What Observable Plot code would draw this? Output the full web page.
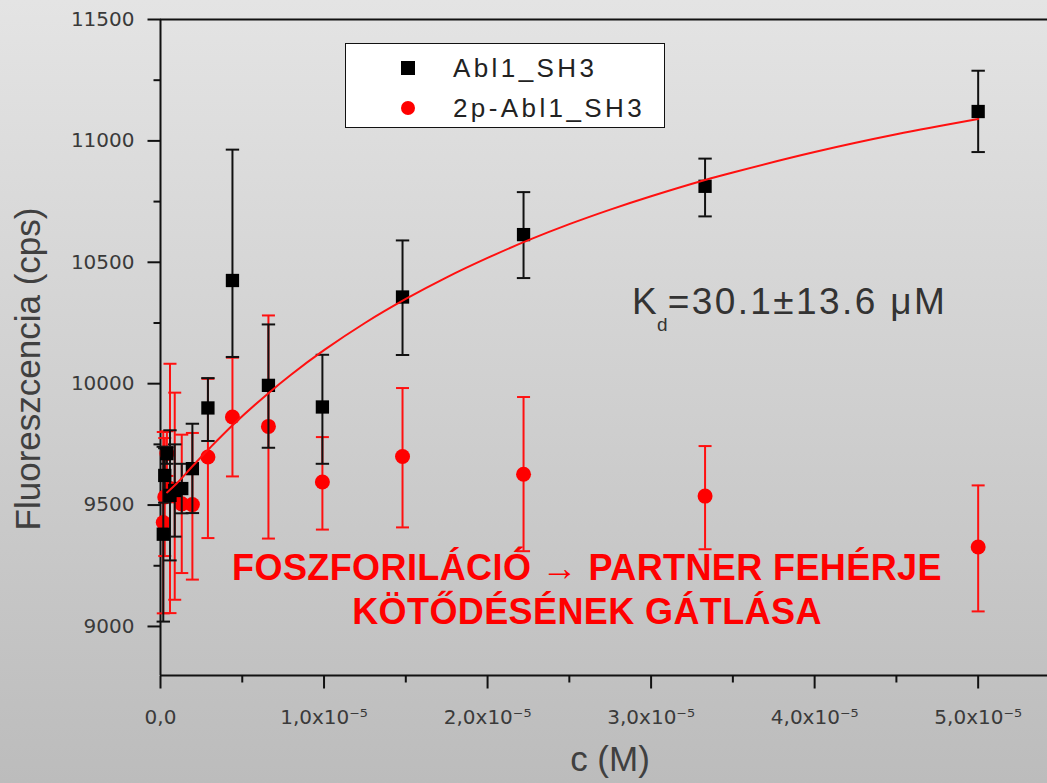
<!DOCTYPE html>
<html>
<head>
<meta charset="utf-8">
<script src="https://cdn.jsdelivr.net/npm/d3@7"></script>
<script src="https://cdn.jsdelivr.net/npm/@observablehq/plot@0.6"></script>
<style>
  html, body { margin: 0; padding: 0; }
  #wrap { position: relative; width: 1047px; height: 783px; overflow: hidden;
          background: linear-gradient(to bottom, #e4e4e4 0%, #bcbcbc 100%);
          font-family: "Liberation Sans", Arial, sans-serif; }
  #wrap svg { position: absolute; left: 0; top: 0; }
  .ov { position: absolute; white-space: nowrap; }
  #ytitle { left: -172px; top: 349px; width: 400px; height: 40px; line-height: 40px; text-align: center;
            font-size: 35px; color: #404040; transform: rotate(-90deg); }
  #xtitle { left: 510px; top: 742px; width: 200px; line-height: 34px; text-align: center;
            font-size: 35px; color: #404040; }
  #kd { left: 632px; top: 283px; font-size: 37px; line-height: 37px; color: #333; letter-spacing: 2.4px; }
  #kd .sub { font-size: 19px; position: relative; top: 17px; margin-left: -2px; margin-right: 0px; letter-spacing: 0; }
  #anno { left: 187px; top: 546px; width: 800px; text-align: center; color: #ff0000;
          font-weight: bold; font-size: 36px; line-height: 44px; letter-spacing: 0.4px; }
  #legend { left: 345px; top: 43px; width: 318px; height: 83px; background: #fff; border: 1.5px solid #111; }
  .lrow { position: absolute; left: 0; height: 30px; line-height: 30px; font-size: 26px; color: #222; letter-spacing: 3.4px; }
  .lsym { position: absolute; }
</style>
</head>
<body>
<div id="wrap">
  <div id="ytitle" class="ov">Fluoreszcencia (cps)</div>
  <div id="xtitle" class="ov">c (M)</div>
  <div id="kd" class="ov">K<span class="sub">d</span>=30.1±13.6 μM</div>
  <div id="anno" class="ov">FOSZFORILÁCIÓ → PARTNER FEHÉRJE<br>KÖTŐDÉSÉNEK GÁTLÁSA</div>
  <div id="legend" class="ov">
    <div class="lsym" style="left:55px;top:17px;width:14px;height:14px;background:#000"></div>
    <div class="lrow" style="top:9px;left:107px">Abl1_SH3</div>
    <div class="lsym" style="left:55px;top:57px;width:14px;height:14px;border-radius:50%;background:#ff0000"></div>
    <div class="lrow" style="top:49px;left:107px">2p-Abl1_SH3</div>
  </div>
</div>
<script>
// ---- data ----
const conc = [1.7e-7, 2.6e-7, 3.9e-7, 5.8e-7, 8.7e-7, 1.3e-6, 1.95e-6, 2.9e-6, 4.4e-6, 6.6e-6, 9.9e-6, 1.48e-5, 2.22e-5, 3.33e-5, 5.0e-5];

// Abl1_SH3 (black squares)
const ablY  = [9380, 9622, 9712, 9540, 9560, 9568, 9650, 9900, 10425, 9993, 9904, 10357, 10614, 10813, 11121];
const ablLo = [9020, 9510, 9670, 9272, 9370, 9466, 9467, 9764, 10110, 9736, 9670, 10118, 10435, 10689, 10954];
const ablHi = [9740, 9734, 9740, 9808, 9750, 9670, 9835, 10023, 10964, 10244, 10119, 10590, 10789, 10927, 11289];

// 2p-Abl1_SH3 (red circles)
const pY  = [9428, 9533, 9712, 9568, 9537, 9505, 9502, 9698, 9863, 9824, 9595, 9700, 9627, 9537, 9327];
const pLo = [9054, 9290, 9620, 9055, 9110, 9220, 9193, 9364, 9618, 9362, 9399, 9408, 9310, 9318, 9062];
const pHi = [9801, 9776, 9804, 10082, 9963, 9790, 9797, 10020, 10107, 10281, 9780, 9982, 9945, 9743, 9581];

// fitted curve (red line)
const fitC = [4e-7, 1e-6, 2e-6, 3e-6, 4.5e-6, 6.6e-6, 8e-6, 1.0e-5, 1.25e-5, 1.5e-5, 1.75e-5, 2.0e-5, 2.25e-5, 2.5e-5, 2.75e-5, 3.0e-5, 3.33e-5, 3.5e-5, 4.0e-5, 4.5e-5, 5.0e-5];
const fitY = [9552, 9590, 9663, 9734, 9835, 9961, 10038, 10138, 10250, 10349, 10438, 10518, 10591, 10657, 10717, 10772, 10839, 10870, 10954, 11027, 11090];

// axes
const xDomain = [0, 5.424e-5];
const yDomain = [8798, 11500];
const xMajorTicks = [0, 1e-5, 2e-5, 3e-5, 4e-5, 5e-5];
const xTickLabels = ["0,0", "1,0x10⁻⁵", "2,0x10⁻⁵", "3,0x10⁻⁵", "4,0x10⁻⁵", "5,0x10⁻⁵"];
const xMinorTicks = [0.5e-5, 1.5e-5, 2.5e-5, 3.5e-5, 4.5e-5];
const yMajorTicks = [9000, 9500, 10000, 10500, 11000, 11500];
const yMinorTicks = [9250, 9750, 10250, 10750, 11250];

// ---- build ----
const abl = conc.map((c, i) => ({c, y: ablY[i], lo: ablLo[i], hi: ablHi[i]}));
const pab = conc.map((c, i) => ({c, y: pY[i], lo: pLo[i], hi: pHi[i]}));
const fit = fitC.map((c, i) => ({c, y: fitY[i]}));

const tickDown = len => ({draw(ctx) { ctx.moveTo(0, 0); ctx.lineTo(0, len); }});
const tickLeft = len => ({draw(ctx) { ctx.moveTo(0, 0); ctx.lineTo(-len, 0); }});
const cap = half => ({draw(ctx) { ctx.moveTo(-half, 0); ctx.lineTo(half, 0); }});

const ink = "#111";
const red = "#ff1010";

const errMarks = (data, color, half) => [
  Plot.ruleX(data, {x: "c", y1: "lo", y2: "hi", stroke: color, strokeWidth: 2}),
  Plot.dot(data, {x: "c", y: "lo", symbol: cap(half), r: 1, stroke: color, strokeWidth: 2, fill: "none"}),
  Plot.dot(data, {x: "c", y: "hi", symbol: cap(half), r: 1, stroke: color, strokeWidth: 2, fill: "none"})
];

const chart = Plot.plot({
  width: 1047,
  height: 783,
  marginLeft: 160,
  marginRight: 0,
  marginTop: 19,
  marginBottom: 108,
  style: {background: "transparent", overflow: "visible", fontFamily: "DejaVu Sans"},
  x: {type: "linear", domain: xDomain, axis: null},
  y: {type: "linear", domain: yDomain, axis: null},
  marks: [
    // frame / axes
    Plot.ruleY([yDomain[1]], {stroke: ink, strokeWidth: 2}),
    Plot.ruleY([yDomain[0]], {stroke: ink, strokeWidth: 2}),
    Plot.ruleX([xDomain[0]], {stroke: ink, strokeWidth: 2}),
    Plot.dot(yMajorTicks, {x: () => 0, y: d => d, symbol: tickLeft(13), r: 1, stroke: ink, strokeWidth: 2, fill: "none"}),
    Plot.dot(yMinorTicks, {x: () => 0, y: d => d, symbol: tickLeft(7), r: 1, stroke: ink, strokeWidth: 2, fill: "none"}),
    Plot.dot(xMajorTicks, {x: d => d, y: () => yDomain[0], symbol: tickDown(13), r: 1, stroke: ink, strokeWidth: 2, fill: "none"}),
    Plot.dot(xMinorTicks, {x: d => d, y: () => yDomain[0], symbol: tickDown(7), r: 1, stroke: ink, strokeWidth: 2, fill: "none"}),
    Plot.text(yMajorTicks, {x: () => 0, y: d => d, text: d => String(d), textAnchor: "end", dx: -26,
      fontSize: 20, fill: "#3a3a3a", fontFamily: "DejaVu Sans"}),
    Plot.text(xMajorTicks, {x: d => d, y: () => yDomain[0], text: (d, i) => xTickLabels[i], dy: 42,
      fontSize: 20, fill: "#3a3a3a", fontFamily: "DejaVu Sans"}),
    // 2p-Abl1_SH3
    ...errMarks(pab, red, 6.5),
    Plot.dot(pab, {x: "c", y: "y", r: 7.5, fill: "#ff0000", stroke: "none"}),
    // Abl1_SH3
    ...errMarks(abl, ink, 6.7),
    Plot.dot(abl, {x: "c", y: "y", symbol: "square", r: 7.5, fill: "#000", stroke: "none"}),
    // fit
    Plot.line(fit, {x: "c", y: "y", stroke: red, strokeWidth: 2, curve: "catmull-rom"})
  ]
});

document.getElementById("wrap").prepend(chart);
</script>
</body>
</html>
